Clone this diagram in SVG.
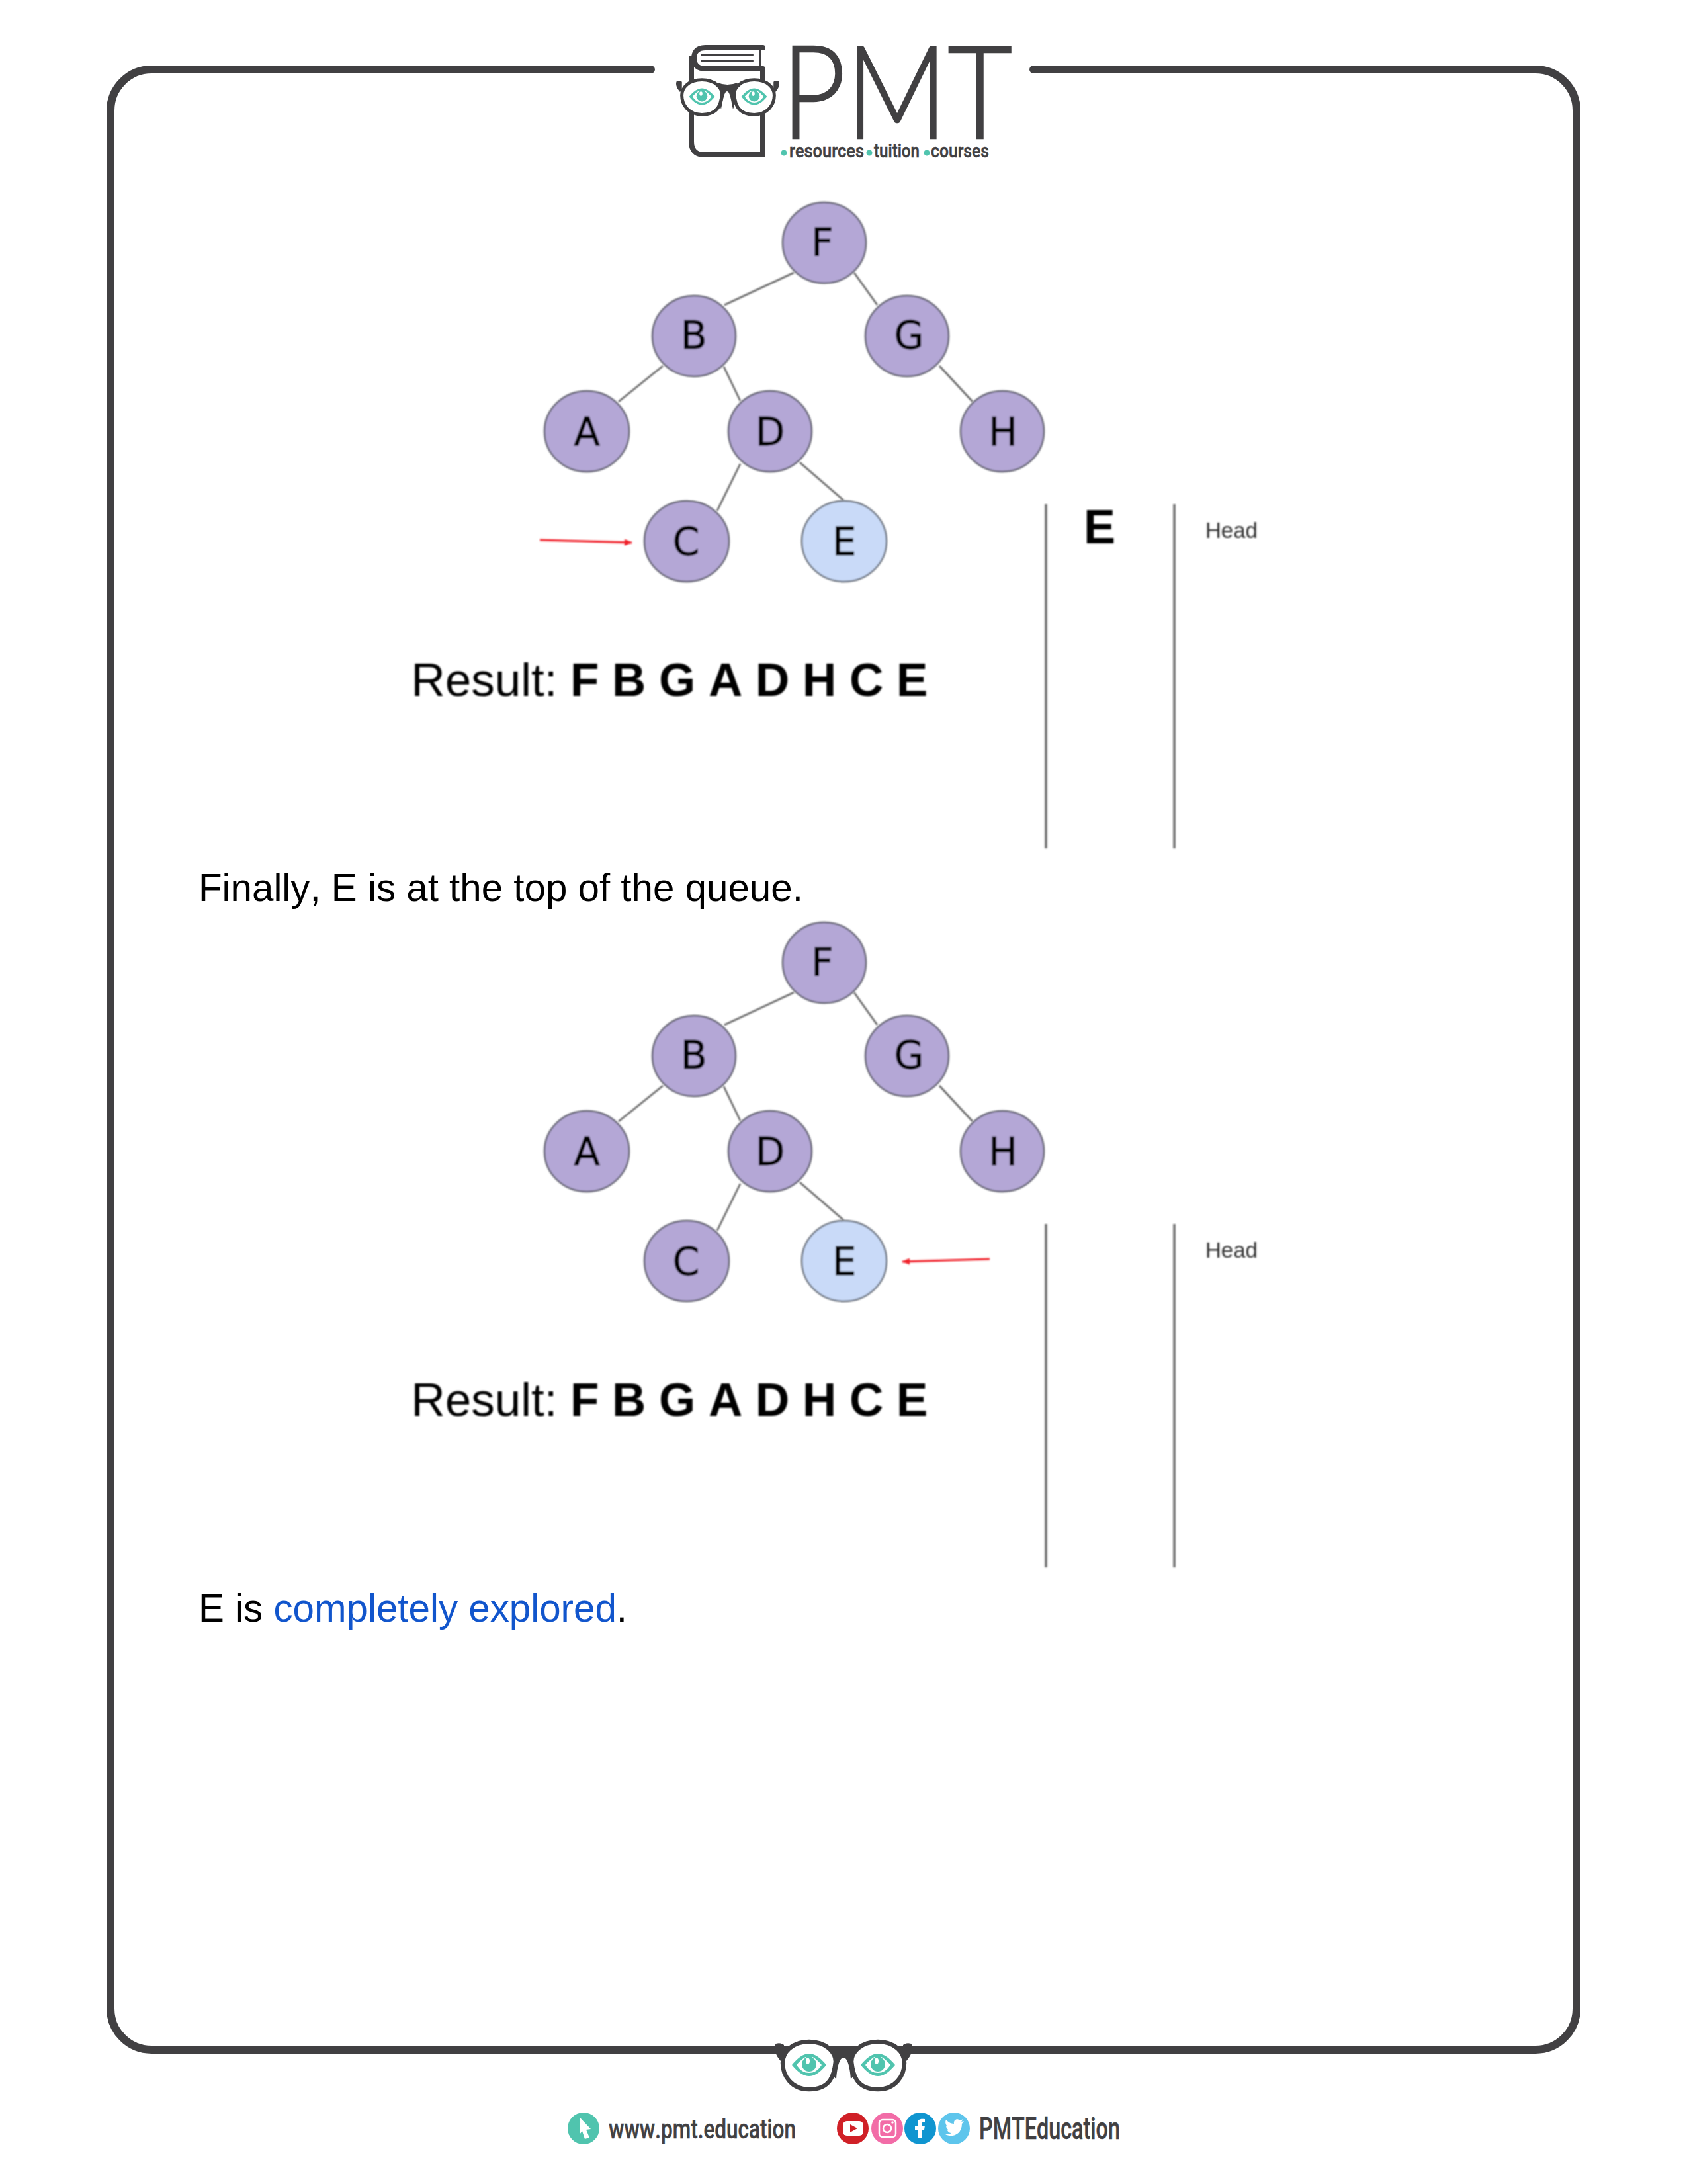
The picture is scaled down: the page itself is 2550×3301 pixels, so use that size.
<svg xmlns="http://www.w3.org/2000/svg" width="2550" height="3301" viewBox="0 0 2550 3301">
<style>
text{font-family:"Liberation Sans",Arial,sans-serif;fill:#000;font-kerning:none}
.n{fill:#b4a7d6;stroke:#5e5e6c;stroke-width:2.4}
.l{fill:#c9daf8;stroke:#666d78;stroke-width:2.4}
.t{font-family:"DejaVu Sans",sans-serif;font-size:58px;text-anchor:middle;fill:#000;stroke:#000;stroke-width:.8}
.e{stroke:#606060;stroke-width:2.6;fill:none}
.q{stroke:#707070;stroke-width:3.6;fill:none}
.r{stroke:#f0202c;stroke-width:3;fill:none}
.frame{stroke:#414042;stroke-width:12;fill:none;stroke-linecap:round}
.res{font-size:71px}
.res tspan{font-weight:700}
.body{font-size:58.3px}
.head{font-size:33px;fill:#333}
.dk{fill:#414042}
.teal{fill:#50c4ae}
.brand{fill:#414042;font-family:"Roboto",sans-serif;font-weight:500;stroke:#414042;stroke-width:.5}
.soft{filter:url(#soft)}
</style>
<defs>
<filter id="soft" filterUnits="userSpaceOnUse" x="0" y="0" width="2550" height="3301"><feGaussianBlur stdDeviation="1"/></filter>
<marker id="ah" markerUnits="userSpaceOnUse" markerWidth="13" markerHeight="11" refX="11" refY="5.5" orient="auto"><path d="M0,0.5L12,5.5L0,10.5Z" fill="#f0202c"/></marker>
<g id="lens"><path d="M0,-36C26,-36 40,-20 40,-6C38,12 34,36 0,36C-26,36 -40,16 -40,-4C-40,-20 -26,-36 0,-36Z" fill="#fff" stroke="#414042" stroke-width="6.5"/></g>
<g id="eye"><path d="M-26,0C-16,-12 -8,-17 0,-17C8,-17 16,-12 26,0C16,12 8,17 0,17C-8,17 -16,12 -26,0Z" fill="#50c4ae"/><path d="M-19,0C-13,-7 -8,-11 -5,-12V-3C-5,6 5,6 5,-3V-12C8,-11 13,-7 19,0C13,9 7,12 0,12C-7,12 -13,9 -19,0Z" fill="#fff"/><circle cx="0" cy="-1" r="11" fill="#50c4ae"/><ellipse cx="-2" cy="-6" rx="3" ry="4.5" fill="#fff"/></g>
<g id="ear"><path d="M-6,-12C-1,-14 4,-12 6,-10V12L1,14C-4,8 -8,2 -8,-6C-8,-9 -7,-11 -6,-12Z" fill="#414042"/></g>
</defs>
<rect width="2550" height="3301" fill="#fff"/>

<g id="frame">
<path class="frame" d="M984,105H229A62,62 0 0 0 167,167V3036A62,62 0 0 0 229,3098H2321A62,62 0 0 0 2383,3036V167A62,62 0 0 0 2321,105H1562"/>
</g>

<g id="logo">
<path d="M1153,72H1066C1053,72 1049,80 1049,88C1049,98 1054,104 1066,104H1153V234H1064C1051,234 1045,226 1045,214V88" fill="none" stroke="#414042" stroke-width="8" stroke-linecap="round" stroke-linejoin="round"/>
<path d="M1149,72V104" stroke="#414042" stroke-width="3"/>
<path d="M1061,83H1137M1061,92H1137" stroke="#414042" stroke-width="4" stroke-linecap="round"/>
<g id="glasses-top">
<use href="#ear" transform="translate(1027,130) scale(.62,.62)"/>
<use href="#ear" transform="translate(1173,130) scale(-.62,.62)"/>
<path class="dk" d="M1085,125Q1099,131 1115,125L1113,150L1108,165C1105,150 1103,138 1099,138C1095,138 1093,150 1090,165L1085,150Z"/>
<use href="#lens" transform="translate(1061,147) scale(.76,.73)"/>
<use href="#lens" transform="translate(1140,147) scale(-.76,.73)"/>
<use href="#eye" transform="translate(1061,146) scale(.75,.74)"/>
<use href="#eye" transform="translate(1140,146) scale(.75,.74)"/>
</g>
<text class="brand" x="1181" y="209" font-size="196" textLength="349" lengthAdjust="spacingAndGlyphs" style="font-family:Lato,sans-serif;font-weight:300;stroke-width:2.5">PMT</text>
<circle class="teal" cx="1185" cy="231" r="4.5"/><circle class="teal" cx="1314" cy="231" r="4.5"/><circle class="teal" cx="1401" cy="231" r="4.5"/>
<text class="brand" x="1193" y="238" font-size="29" textLength="113" lengthAdjust="spacingAndGlyphs">resources</text>
<text class="brand" x="1321" y="238" font-size="29" textLength="69" lengthAdjust="spacingAndGlyphs">tuition</text>
<text class="brand" x="1407" y="238" font-size="29" textLength="88" lengthAdjust="spacingAndGlyphs">courses</text>
</g>

<g id="connectors" class="soft">
<g id="tree1-edges">
<path class="e" d="M1200,412L1095,461M1291,412L1326,461M1002,553L935,607M1094,554L1119,606M1420,553L1470,607M1119,701L1084,772M1209,699L1275,756"/>
<path class="r" d="M816,816L955,820" marker-end="url(#ah)"/>
</g>
<g id="tree2-edges">
<path class="e" d="M1200,1500L1095,1549M1291,1500L1326,1549M1002,1641L935,1695M1094,1642L1119,1694M1420,1641L1470,1695M1119,1789L1084,1860M1209,1787L1275,1844"/>
<path class="r" d="M1496,1903L1364,1907" marker-end="url(#ah)"/>
</g>
</g>

<g id="t1-F" class="soft"><ellipse class="n" cx="1246" cy="367" rx="63" ry="61"/><text class="t" x="1243" y="387">F</text></g>
<g id="t1-B" class="soft"><ellipse class="n" cx="1049" cy="508" rx="63" ry="61"/><text class="t" x="1049" y="527">B</text></g>
<g id="t1-G" class="soft"><ellipse class="n" cx="1371" cy="508" rx="63" ry="61"/><text class="t" x="1374" y="527">G</text></g>
<g id="t1-A" class="soft"><ellipse class="n" cx="887" cy="652" rx="64" ry="61"/><text class="t" x="887" y="673">A</text></g>
<g id="t1-D" class="soft"><ellipse class="n" cx="1164" cy="652" rx="63" ry="61"/><text class="t" x="1164" y="673">D</text></g>
<g id="t1-H" class="soft"><ellipse class="n" cx="1515" cy="652" rx="63" ry="61"/><text class="t" x="1516" y="673">H</text></g>
<g id="t1-C" class="soft"><ellipse class="n" cx="1038" cy="818" rx="64" ry="61"/><text class="t" x="1037" y="839">C</text></g>
<g id="t1-E" class="soft"><ellipse class="l" cx="1276" cy="818" rx="64" ry="61"/><text class="t" x="1276" y="839">E</text></g>

<g id="queue1" class="soft">
<path class="q" d="M1581,762V1282M1775,762V1282"/>
<text x="1638" y="821" font-size="72" font-weight="700">E</text>
<text class="head" x="1822" y="813">Head</text>
</g>
<text class="res soft" x="621.5" y="1052">Result:<tspan x="862">F B G A D H C E</tspan></text>
<text class="body" x="300" y="1362">Finally, E is at the top of the queue.</text>

<g id="t2-F" class="soft"><ellipse class="n" cx="1246" cy="1455" rx="63" ry="61"/><text class="t" x="1243" y="1475">F</text></g>
<g id="t2-B" class="soft"><ellipse class="n" cx="1049" cy="1596" rx="63" ry="61"/><text class="t" x="1049" y="1615">B</text></g>
<g id="t2-G" class="soft"><ellipse class="n" cx="1371" cy="1596" rx="63" ry="61"/><text class="t" x="1374" y="1615">G</text></g>
<g id="t2-A" class="soft"><ellipse class="n" cx="887" cy="1740" rx="64" ry="61"/><text class="t" x="887" y="1761">A</text></g>
<g id="t2-D" class="soft"><ellipse class="n" cx="1164" cy="1740" rx="63" ry="61"/><text class="t" x="1164" y="1761">D</text></g>
<g id="t2-H" class="soft"><ellipse class="n" cx="1515" cy="1740" rx="63" ry="61"/><text class="t" x="1516" y="1761">H</text></g>
<g id="t2-C" class="soft"><ellipse class="n" cx="1038" cy="1906" rx="64" ry="61"/><text class="t" x="1037" y="1927">C</text></g>
<g id="t2-E" class="soft"><ellipse class="l" cx="1276" cy="1906" rx="64" ry="61"/><text class="t" x="1276" y="1927">E</text></g>

<g id="queue2" class="soft">
<path class="q" d="M1581,1850V2369M1775,1850V2369"/>
<text class="head" x="1822" y="1901">Head</text>
</g>
<text class="res soft" x="621.5" y="2140">Result:<tspan x="862">F B G A D H C E</tspan></text>
<text class="body" x="300" y="2451">E is <tspan style="fill:#1155cc">completely explored</tspan>.</text>

<g id="glasses-bottom">
<use href="#ear" transform="translate(1179,3101)"/>
<use href="#ear" transform="translate(1371,3101) scale(-1,1)"/>
<path class="dk" d="M1250,3092H1300L1296,3118C1294,3128 1291,3140 1286,3142C1285,3128 1282,3110 1275,3110C1268,3110 1265,3128 1264,3142C1259,3140 1256,3128 1254,3118Z"/>
<use href="#lens" transform="translate(1223,3122)"/>
<use href="#lens" transform="translate(1327,3122) scale(-1,1)"/>
<use href="#eye" transform="translate(1223,3121)"/>
<use href="#eye" transform="translate(1327,3121)"/>
</g>

<g id="footer">
<circle class="teal" cx="882" cy="3217" r="24"/>
<path d="M876,3200L893,3218L886,3219L891,3231L884,3233L880,3221L876,3226Z" fill="#fff"/>
<text class="brand" x="920" y="3232" font-size="41" textLength="283" lengthAdjust="spacingAndGlyphs">www.pmt.education</text>
<circle cx="1289" cy="3217" r="24" fill="#d02027"/>
<rect x="1274" y="3206" width="31" height="22" rx="6" fill="#fff"/>
<path d="M1285,3211L1296,3217L1285,3223Z" fill="#d02027"/>
<circle cx="1341" cy="3217" r="24" fill="#f26ca7"/>
<rect x="1329" y="3204" width="25" height="26" rx="5" fill="none" stroke="#fff" stroke-width="2.5"/>
<circle cx="1341" cy="3217" r="6" fill="none" stroke="#fff" stroke-width="2.5"/><circle cx="1349" cy="3208" r="1.8" fill="#fff"/>
<circle cx="1391" cy="3217" r="24" fill="#0f95d0"/>
<path d="M1387,3232V3219H1383V3213H1387V3209C1387,3204 1390,3202 1398,3203V3208C1394,3208 1393,3208 1393,3210V3213H1398L1397,3219H1393V3232Z" fill="#fff"/>
<circle cx="1442" cy="3217" r="24" fill="#5ec5ec"/>
<path d="M1429,3226C1437,3231 1454,3228 1454,3210L1457,3206L1453,3207L1456,3203L1451,3205C1447,3201 1441,3204 1442,3210C1437,3210 1433,3207 1430,3204C1428,3208 1430,3212 1432,3214L1430,3213C1430,3216 1432,3219 1435,3220H1432C1433,3222 1435,3224 1438,3224C1435,3226 1432,3226 1429,3226Z" fill="#fff"/>
<text class="brand" x="1480" y="3233" font-size="46" textLength="213" lengthAdjust="spacingAndGlyphs">PMTEducation</text>
</g>
</svg>
